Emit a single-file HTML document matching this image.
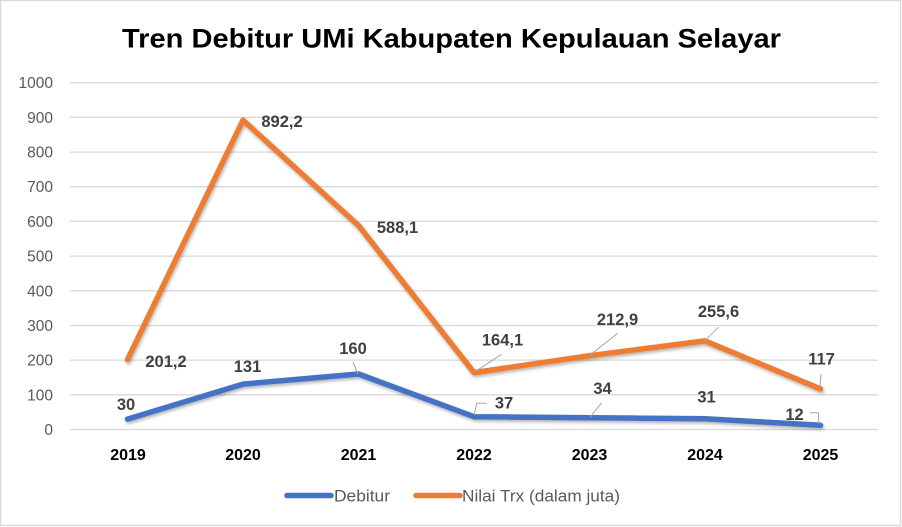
<!DOCTYPE html>
<html>
<head>
<meta charset="utf-8">
<style>
  html, body { margin:0; padding:0; background:#fff; }
  svg { display:block; }
  .t { font-family:"Liberation Sans", Arial, sans-serif; }
</style>
</head>
<body>
<svg width="902" height="527" viewBox="0 0 902 527" xmlns="http://www.w3.org/2000/svg">
  <defs>
    <filter id="sh" x="-10%" y="-10%" width="120%" height="130%">
      <feDropShadow dx="1" dy="2" stdDeviation="1.5" flood-color="#000" flood-opacity="0.3"/>
    </filter>
  </defs>
  <rect x="0" y="0" width="902" height="527" fill="#fff"/>
  <rect x="0.5" y="0.5" width="900" height="525" fill="none" stroke="#d9d9d9" stroke-width="1.5"/>

  <!-- Title -->
  <text class="t" x="451.5" y="47.5" text-anchor="middle" font-size="27" font-weight="bold" fill="#000" textLength="659" lengthAdjust="spacingAndGlyphs">Tren Debitur UMi Kabupaten Kepulauan Selayar</text>

  <!-- Gridlines -->
  <g stroke="#d9d9d9" stroke-width="1.3">
    <line x1="70" y1="429.5" x2="878" y2="429.5"/>
    <line x1="70" y1="394.8" x2="878" y2="394.8"/>
    <line x1="70" y1="360.1" x2="878" y2="360.1"/>
    <line x1="70" y1="325.5" x2="878" y2="325.5"/>
    <line x1="70" y1="290.8" x2="878" y2="290.8"/>
    <line x1="70" y1="256.1" x2="878" y2="256.1"/>
    <line x1="70" y1="221.4" x2="878" y2="221.4"/>
    <line x1="70" y1="186.7" x2="878" y2="186.7"/>
    <line x1="70" y1="152.1" x2="878" y2="152.1"/>
    <line x1="70" y1="117.4" x2="878" y2="117.4"/>
    <line x1="70" y1="82.7" x2="878" y2="82.7"/>
  </g>

  <!-- Y labels -->
  <g class="t" font-size="15.5" fill="#595959" text-anchor="end">
    <text x="53" y="435">0</text>
    <text x="53" y="400.3">100</text>
    <text x="53" y="365.6">200</text>
    <text x="53" y="331">300</text>
    <text x="53" y="296.3">400</text>
    <text x="53" y="261.6">500</text>
    <text x="53" y="226.9">600</text>
    <text x="53" y="192.2">700</text>
    <text x="53" y="157.6">800</text>
    <text x="53" y="122.9">900</text>
    <text x="53" y="88.2">1000</text>
  </g>

  <!-- X labels -->
  <g class="t" font-size="16" font-weight="bold" fill="#000" text-anchor="middle">
    <text x="128" y="460">2019</text>
    <text x="243" y="460">2020</text>
    <text x="358.5" y="460">2021</text>
    <text x="474" y="460">2022</text>
    <text x="589.5" y="460">2023</text>
    <text x="705" y="460">2024</text>
    <text x="820.5" y="460">2025</text>
  </g>

  <!-- Series -->
  <g filter="url(#sh)" fill="none" stroke-width="5.5" stroke-linejoin="round" stroke-linecap="round">
    <polyline stroke="#ED7D31" points="127.5,359.7 243,120.1 358.5,225.5 474,372.6 589.5,355.7 705,340.9 820.5,388.9"/>
    <polyline stroke="#4472C4" points="127.5,419.1 243,384.1 358.5,374.0 474,416.7 589.5,417.7 705,418.8 820.5,425.3"/>
  </g>

  <!-- Leader lines -->
  <g stroke="#a6a6a6" stroke-width="1" fill="none">
    <line x1="353" y1="362" x2="358" y2="374"/>
    <line x1="501.7" y1="354.3" x2="475" y2="371.7"/>
    <line x1="617.7" y1="333.3" x2="590" y2="355"/>
    <line x1="718.3" y1="327.3" x2="705" y2="340.7"/>
    <line x1="821" y1="374" x2="820" y2="387.3"/>
    <polyline points="486.7,403.3 476.7,403.3 474.3,415"/>
    <line x1="601.7" y1="402.7" x2="590" y2="417.3"/>
    <polyline points="810,412.7 818.3,412.7 819,424"/>
  </g>

  <!-- Data labels -->
  <g class="t" font-size="16.5" font-weight="bold" fill="#404040" text-anchor="middle">
    <text x="126" y="410">30</text>
    <text x="166" y="367">201,2</text>
    <text x="247.5" y="372">131</text>
    <text x="353" y="354">160</text>
    <text x="282" y="127">892,2</text>
    <text x="397.5" y="233">588,1</text>
    <text x="502.5" y="345.7">164,1</text>
    <text x="617.5" y="325">212,9</text>
    <text x="718.5" y="317">255,6</text>
    <text x="821.5" y="364.5">117</text>
    <text x="504" y="408.5">37</text>
    <text x="602.5" y="394">34</text>
    <text x="706.5" y="402.7">31</text>
    <text x="794.5" y="420">12</text>
  </g>

  <!-- Legend -->
  <line x1="287" y1="495.5" x2="331" y2="495.5" stroke="#4472C4" stroke-width="5.5" stroke-linecap="round"/>
  <text class="t" x="334" y="501.5" font-size="17" fill="#595959" textLength="56" lengthAdjust="spacingAndGlyphs">Debitur</text>
  <line x1="416" y1="495.5" x2="460" y2="495.5" stroke="#ED7D31" stroke-width="5.5" stroke-linecap="round"/>
  <text class="t" x="462" y="501.5" font-size="17" fill="#595959" textLength="158" lengthAdjust="spacingAndGlyphs">Nilai Trx (dalam juta)</text>
</svg>
</body>
</html>
